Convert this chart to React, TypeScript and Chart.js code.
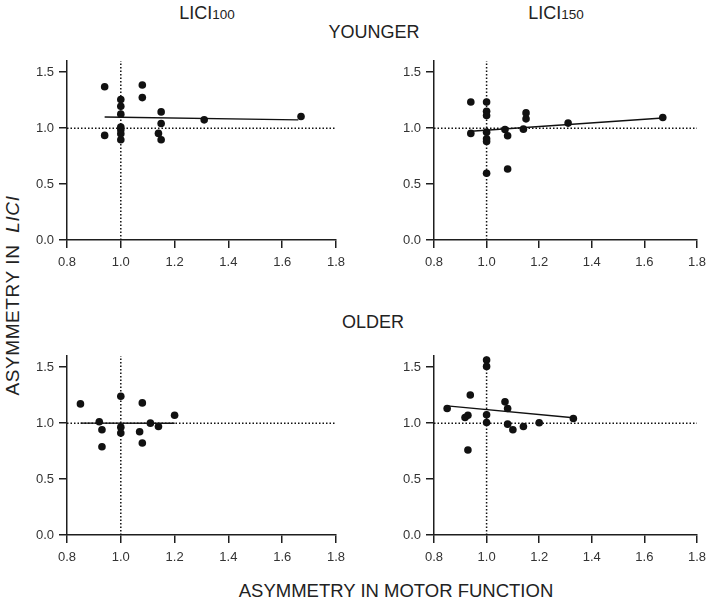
import React, { useEffect, useRef } from "react";
import { Chart, registerables } from "chart.js";

Chart.register(...registerables);

// ---- axis settings ----
const xTickValues = [0.8, 1.0, 1.2, 1.4, 1.6, 1.8];
const yTickValues = [0.0, 0.5, 1.0, 1.5];
const xMin = 0.8;
const xMax = 1.8;
const yMin = 0;
const yMax = 1.6;
const refX = 1.0;
const refY = 1.0;

// ---- YOUNGER, LICI100 ----
const youngL100X = [0.94, 0.94, 1.0, 1.0, 1.0, 1.0, 1.0, 1.0, 1.0, 1.08, 1.08, 1.14, 1.15, 1.15, 1.15, 1.31, 1.67];
const youngL100Y = [1.37, 0.935, 1.255, 1.196, 1.125, 1.01, 0.985, 0.95, 0.896, 1.386, 1.273, 0.953, 1.145, 1.042, 0.896, 1.074, 1.104];
const youngL100FitX = [0.94, 1.66];
const youngL100FitY = [1.1, 1.074];

// ---- YOUNGER, LICI150 ----
const youngL150X = [0.94, 0.94, 1.0, 1.0, 1.0, 1.0, 1.0, 1.0, 1.0, 1.07, 1.08, 1.08, 1.15, 1.15, 1.14, 1.31, 1.67];
const youngL150Y = [1.234, 0.953, 1.234, 1.151, 1.113, 0.964, 0.905, 0.881, 0.596, 0.988, 0.932, 0.635, 1.136, 1.083, 0.991, 1.045, 1.095];
const youngL150FitX = [0.94, 1.67];
const youngL150FitY = [0.972, 1.09];

// ---- OLDER, LICI100 ----
const oldL100X = [0.85, 0.92, 0.93, 0.93, 1.0, 1.0, 1.0, 1.07, 1.08, 1.08, 1.11, 1.14, 1.2];
const oldL100Y = [1.172, 1.012, 0.941, 0.789, 1.24, 0.964, 0.911, 0.923, 1.181, 0.822, 1.0, 0.97, 1.071];
const oldL100FitX = [0.85, 1.2];
const oldL100FitY = [1.0, 0.999];

// ---- OLDER, LICI150 ----
const oldL150X = [0.85, 0.918, 0.929, 0.938, 0.929, 1.0, 1.0, 1.0, 1.0, 1.07, 1.08, 1.08, 1.1, 1.14, 1.2, 1.33];
const oldL150Y = [1.131, 1.05, 1.071, 1.252, 0.76, 1.564, 1.507, 1.074, 1.006, 1.19, 1.131, 0.991, 0.941, 0.97, 1.003, 1.042];
const oldL150FitX = [0.85, 1.33];
const oldL150FitY = [1.154, 1.048];

const FONT = "'Liberation Sans', Arial, Helvetica, sans-serif";
const INK = "#111111";
const AXIS = "#1e1e1e";
const TICK_TEXT = "#333333";
const TITLE_TEXT = "#222222";

type PanelProps = {
  left: number;
  top: number;
  width: number;
  height: number;
  areaLeft: number;
  areaTop: number;
  areaRight: number;
  areaBottom: number;
  xs: number[];
  ys: number[];
  fitX: number[];
  fitY: number[];
};

function Panel(p: PanelProps) {
  const ref = useRef<HTMLCanvasElement | null>(null);
  useEffect(() => {
    if (!ref.current) return;
    const points = p.xs.map((x, i) => ({ x, y: p.ys[i] }));
    const fit = p.fitX.map((x, i) => ({ x, y: p.fitY[i] }));
    const hLine = [
      { x: xMin, y: refY },
      { x: xMax, y: refY },
    ];
    const vLine = [
      { x: refX, y: yMin },
      { x: refX, y: yMax },
    ];
    const chart = new Chart(ref.current, {
      type: "scatter",
      data: {
        datasets: [
          {
            data: points,
            pointRadius: 3.8,
            pointBackgroundColor: INK,
            pointBorderWidth: 0,
            showLine: false,
          },
          {
            data: fit,
            showLine: true,
            borderColor: INK,
            borderWidth: 1.4,
            pointRadius: 0,
          },
          {
            data: hLine,
            showLine: true,
            borderColor: INK,
            borderWidth: 1.5,
            borderDash: [1.5, 2],
            pointRadius: 0,
          },
          {
            data: vLine,
            showLine: true,
            borderColor: INK,
            borderWidth: 1.5,
            borderDash: [1.5, 2],
            pointRadius: 0,
          },
        ] as any,
      },
      options: {
        responsive: false,
        animation: false,
        devicePixelRatio: 1,
        layout: {
          padding: {
            left: 0,
            top: p.areaTop,
            right: p.width - p.areaRight,
            bottom: 0,
          },
        },
        plugins: {
          legend: { display: false },
          tooltip: { enabled: false },
        },
        scales: {
          x: {
            type: "linear",
            min: xMin,
            max: xMax,
            afterBuildTicks: (s: any) => {
              s.ticks = xTickValues.map((v) => ({ value: v }));
            },
            afterFit: (s: any) => {
              s.height = p.height - p.areaBottom;
            },
            grid: {
              drawOnChartArea: false,
              drawTicks: true,
              tickLength: 8,
              color: AXIS,
              lineWidth: 1.5,
            },
            border: { display: true, color: AXIS, width: 1.5 },
            ticks: {
              color: TICK_TEXT,
              font: { family: FONT, size: 13 },
              padding: 7,
              autoSkip: false,
              maxRotation: 0,
              callback: (v: any) => Number(v).toFixed(1),
            },
          },
          y: {
            type: "linear",
            min: yMin,
            max: yMax,
            afterBuildTicks: (s: any) => {
              s.ticks = yTickValues.map((v) => ({ value: v }));
            },
            afterFit: (s: any) => {
              s.width = p.areaLeft;
            },
            grid: {
              drawOnChartArea: false,
              drawTicks: true,
              tickLength: 8,
              color: AXIS,
              lineWidth: 1.5,
            },
            border: { display: true, color: AXIS, width: 1.5 },
            ticks: {
              color: TICK_TEXT,
              font: { family: FONT, size: 13 },
              padding: 5,
              callback: (v: any) => Number(v).toFixed(1),
            },
          },
        },
      } as any,
    });
    return () => chart.destroy();
  }, []);
  return (
    <div
      style={{
        position: "absolute",
        left: p.left,
        top: p.top,
        width: p.width,
        height: p.height,
      }}
    >
      <canvas ref={ref} width={p.width} height={p.height} style={{ display: "block" }} />
    </div>
  );
}

function Label(props: {
  cx: number;
  cy: number;
  size: number;
  spacing?: number;
  children: React.ReactNode;
  rotate?: boolean;
}) {
  const w = 400;
  const h = props.size;
  return (
    <div
      style={{
        position: "absolute",
        left: props.cx - w / 2,
        top: props.cy - h / 2,
        width: w,
        height: h,
        lineHeight: `${h}px`,
        fontSize: props.size,
        fontFamily: FONT,
        color: TITLE_TEXT,
        textAlign: "center",
        whiteSpace: "pre",
        letterSpacing: props.spacing ? `${props.spacing}px` : undefined,
        transform: props.rotate ? "rotate(-90deg)" : undefined,
        transformOrigin: "center center",
      }}
    >
      {props.children}
    </div>
  );
}

export default function App() {
  const topRow = 45;
  const botRow = 340;
  const leftCol = 0;
  const rightCol = 367;
  return (
    <div
      style={{
        position: "fixed",
        left: 0,
        top: 0,
        width: 713,
        height: 602,
        background: "#ffffff",
        overflow: "hidden",
      }}
    >
      <Label cx={207} cy={13} size={18}>
        LICI<span style={{ fontSize: 13.5 }}>100</span>
      </Label>
      <Label cx={556} cy={13} size={18}>
        LICI<span style={{ fontSize: 13.5 }}>150</span>
      </Label>
      <Label cx={374} cy={32} size={18}>
        YOUNGER
      </Label>
      <Label cx={373} cy={322} size={18}>
        OLDER
      </Label>
      <Label cx={396} cy={591} size={18.5}>
        ASYMMETRY IN MOTOR FUNCTION
      </Label>
      <Label cx={12} cy={295} size={19} spacing={0.6} rotate>
        {"ASYMMETRY IN  "}
        <i>LICI</i>
      </Label>

      <Panel
        left={leftCol}
        top={topRow}
        width={360}
        height={245}
        areaLeft={67}
        areaTop={16}
        areaRight={336}
        areaBottom={195}
        xs={youngL100X}
        ys={youngL100Y}
        fitX={youngL100FitX}
        fitY={youngL100FitY}
      />
      <Panel
        left={rightCol}
        top={topRow}
        width={346}
        height={245}
        areaLeft={67}
        areaTop={16}
        areaRight={335}
        areaBottom={195}
        xs={youngL150X}
        ys={youngL150Y}
        fitX={youngL150FitX}
        fitY={youngL150FitY}
      />
      <Panel
        left={leftCol}
        top={botRow}
        width={360}
        height={245}
        areaLeft={67}
        areaTop={16}
        areaRight={336}
        areaBottom={195}
        xs={oldL100X}
        ys={oldL100Y}
        fitX={oldL100FitX}
        fitY={oldL100FitY}
      />
      <Panel
        left={rightCol}
        top={botRow}
        width={346}
        height={245}
        areaLeft={67}
        areaTop={16}
        areaRight={335}
        areaBottom={195}
        xs={oldL150X}
        ys={oldL150Y}
        fitX={oldL150FitX}
        fitY={oldL150FitY}
      />
    </div>
  );
}
